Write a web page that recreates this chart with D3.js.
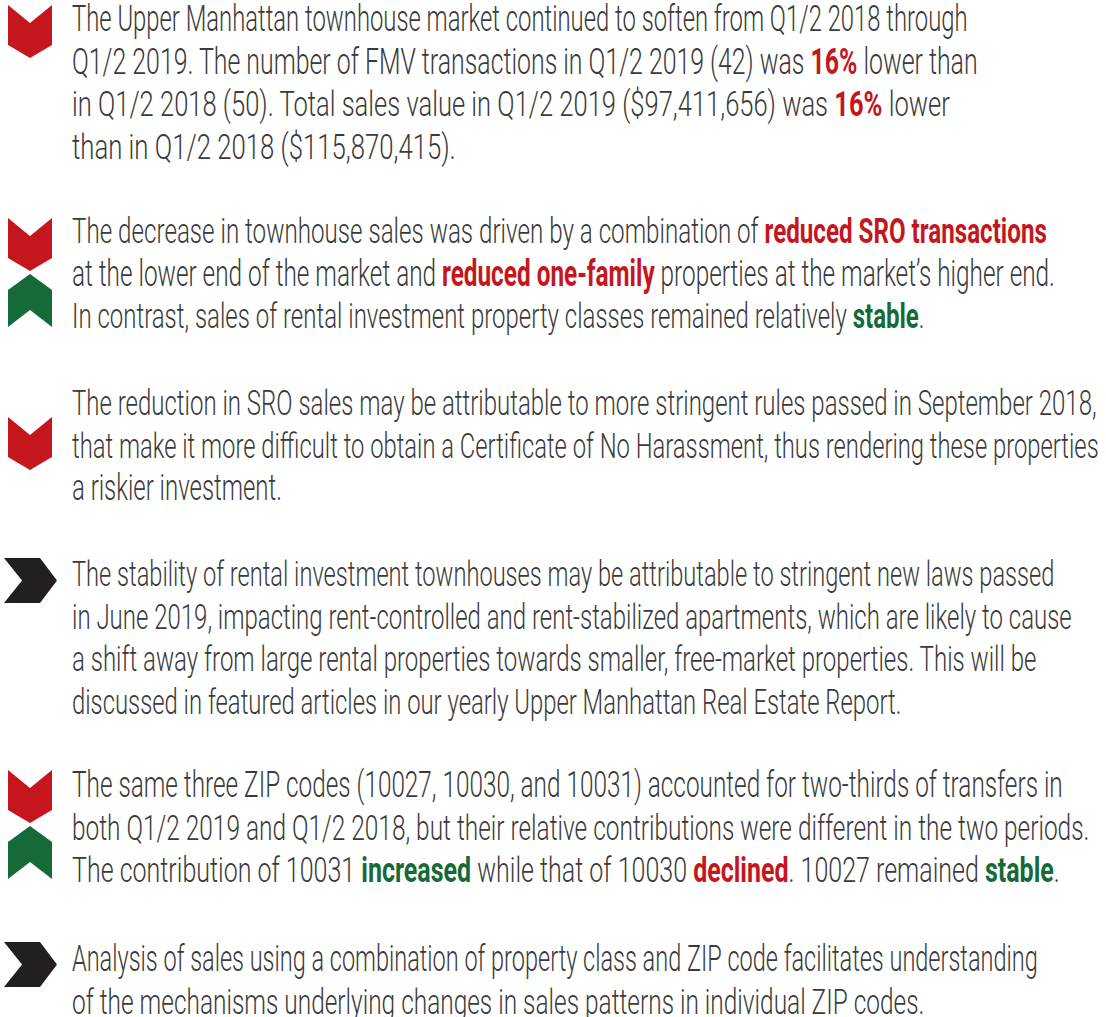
<!DOCTYPE html>
<html lang="en">
<head>
    <meta charset="UTF-8">
    <title>Upper Manhattan townhouse notes</title>
    <script src="https://d3js.org/d3.v7.min.js"></script>
    <style>
        body { margin: 0; background: #fff; }
        text { font-family: Roboto, "Open Sans", sans-serif; font-size: 36px; white-space: pre; }
    </style>
</head>
<body>
    <script>
        // paragraph text, each line is a list of [text, highlight] pieces
        var paragraphs = [
            [
                [["The Upper Manhattan townhouse market continued to soften from Q1/2 2018 through", ""]],
                [["Q1/2 2019. The number of FMV transactions in Q1/2 2019 (42) was ", ""], ["16%", "r"], [" lower than", ""]],
                [["in Q1/2 2018 (50). Total sales value in Q1/2 2019 ($97,411,656) was ", ""], ["16%", "r"], [" lower", ""]],
                [["than in Q1/2 2018 ($115,870,415).", ""]]
            ],
            [
                [["The decrease in townhouse sales was driven by a combination of ", ""], ["reduced SRO transactions", "r"]],
                [["at the lower end of the market and ", ""], ["reduced one-family", "r"], [" properties at the market\u2019s higher end.", ""]],
                [["In contrast, sales of rental investment property classes remained relatively ", ""], ["stable", "g"], [".", ""]]
            ],
            [
                [["The reduction in SRO sales may be attributable to more stringent rules passed in September 2018,", ""]],
                [["that make it more difficult to obtain a Certificate of No Harassment, thus rendering these properties", ""]],
                [["a riskier investment.", ""]]
            ],
            [
                [["The stability of rental investment townhouses may be attributable to stringent new laws passed", ""]],
                [["in June 2019, impacting rent-controlled and rent-stabilized apartments, which are likely to cause", ""]],
                [["a shift away from large rental properties towards smaller, free-market properties. This will be", ""]],
                [["discussed in featured articles in our yearly Upper Manhattan Real Estate Report.", ""]]
            ],
            [
                [["The same three ZIP codes (10027, 10030, and 10031) accounted for two-thirds of transfers in", ""]],
                [["both Q1/2 2019 and Q1/2 2018, but their relative contributions were different in the two periods.", ""]],
                [["The contribution of 10031 ", ""], ["increased", "g"], [" while that of 10030 ", ""], ["declined", "r"], [". 10027 remained ", ""], ["stable", "g"], [".", ""]]
            ],
            [
                [["Analysis of sales using a combination of property class and ZIP code facilitates understanding", ""]],
                [["of the mechanisms underlying changes in sales patterns in individual ZIP codes.", ""]]
            ]
        ];

        // icon per paragraph: chevron kinds stacked next to the text
        var icons = [
            ["down"],
            ["down", "up"],
            ["down"],
            ["right"],
            ["down", "up"],
            ["right"]
        ];

        // layout
        var textX = 72;
        var lineStep = 42.6;
        var firstBaseline = [31, 243, 415, 586, 797, 971];
        var lineEnds = [
            [968, 978, 950, 456],
            [1047, 1055, 925],
            [1097, 1099, 282],
            [1055, 1072, 1037, 902],
            [1063, 1090, 1060],
            [1038, 925]
        ];
        var iconTop = [5, 218, 417, 558, 770, 942];

        var colors = { "": "#3a3a3a", r: "#c5161d", g: "#156a37" };
        var iconColors = { down: "#c5161d", up: "#156a37", right: "#231f20" };

        var shapes = {
            down: [[0, 0], [22, 18], [44, 0], [44, 40], [22, 53], [0, 40]],
            up: [[22, 0], [44, 16], [44, 53], [22, 36], [0, 53], [0, 16]],
            right: [[0, 0], [36, 0], [53, 22.5], [36, 45], [0, 45], [18, 22.5]]
        };

        var svg = d3.select("body").append("svg")
            .attr("width", 1106)
            .attr("height", 1017);

        var line = d3.line();

        icons.forEach(function(list, b) {
            list.forEach(function(kind, k) {
                var x0 = kind == "right" ? 4 : 8;
                var y0 = iconTop[b] + k * 56;
                svg.append("path")
                    .attr("d", line(shapes[kind].map(function(p) { return [x0 + p[0], y0 + p[1]]; })) + "Z")
                    .attr("fill", iconColors[kind]);
            });
        });

        // each line drawn at natural width, then squeezed horizontally to the condensed width
        paragraphs.forEach(function(lines, b) {
            lines.forEach(function(pieces, i) {
                var t = svg.append("text");
                t.selectAll("tspan")
                    .data(pieces)
                    .join("tspan")
                    .attr("fill", function(d) { return colors[d[1]]; })
                    .attr("font-weight", function(d) { return d[1] ? 700 : 300; })
                    .text(function(d) { return d[0]; });
                var w = t.node().getComputedTextLength();
                var sx = (lineEnds[b][i] - textX) / w;
                t.attr("transform", "translate(" + textX + "," + (firstBaseline[b] + i * lineStep) + ") scale(" + sx + ",1)");
            });
        });
    </script>
</body>
</html>
